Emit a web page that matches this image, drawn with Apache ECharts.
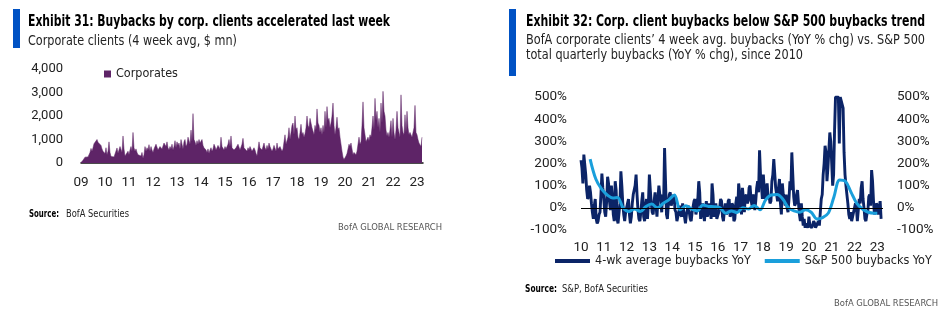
<!DOCTYPE html>
<html><head><meta charset="utf-8">
<script src="https://cdn.jsdelivr.net/npm/echarts@6/dist/echarts.min.js"></script>
<style>html,body{margin:0;padding:0;background:#fff}#c{width:951px;height:332px}</style>
</head><body><div id="c"></div>
<script>
// ---------------- DATA ----------------
// Exhibit 31: Corporate clients 4-week avg buybacks ($ mn), twice a month from Jan 2009
const corpStartYear = 2009;
const corpPerYear = 24;
const corporates = [
  20, 60, 120, 200, 250, 180, 180, 260, 300, 450, 620, 500, 650, 820, 900, 780, 1000, 880, 950, 800, 750, 600, 500, 420,          // 2009
  400, 650, 350, 500, 900, 450, 280, 350, 200, 260, 250, 200, 640, 420, 500, 700, 700, 450, 1150, 600, 300, 250, 350, 500,        // 2010
  350, 550, 700, 500, 1300, 650, 500, 600, 450, 350, 350, 300, 300, 450, 200, 350, 700, 500, 650, 550, 780, 500, 700, 550,        // 2011
  450, 600, 700, 800, 800, 550, 550, 700, 750, 600, 600, 850, 850, 700, 900, 650, 550, 700, 600, 800, 550, 700, 950, 650,         // 2012
  900, 750, 850, 600, 1000, 800, 600, 900, 1000, 700, 800, 1100, 1150, 800, 1400, 900, 2100, 1000, 900, 750, 950, 800, 1000, 850, // 2013
  900, 1000, 750, 650, 600, 550, 450, 600, 400, 550, 650, 500, 600, 800, 700, 550, 550, 750, 800, 600, 1100, 700, 650, 550,       // 2014
  700, 600, 650, 800, 1000, 700, 1150, 650, 700, 550, 550, 650, 650, 800, 750, 550, 600, 800, 1050, 650, 700, 600, 500, 650,      // 2015
  550, 700, 600, 500, 450, 650, 550, 400, 300, 600, 900, 650, 700, 550, 700, 850, 650, 550, 750, 600, 850, 700, 600, 500,         // 2016
  600, 750, 700, 500, 850, 600, 550, 700, 650, 500, 600, 900, 1200, 800, 850, 1100, 1500, 1000, 1300, 1600, 1700, 1200, 2000, 1400, // 2017
  1500, 1100, 1000, 1300, 1650, 1200, 1300, 1100, 1250, 1500, 2000, 1600, 1500, 1900, 1900, 1500, 1450, 1200, 1600, 1400, 2300, 1700, 1600, 1300, // 2018
  1500, 1200, 1600, 1300, 2200, 1500, 2400, 1800, 1900, 1500, 1700, 2000, 2550, 1600, 1200, 1500, 1950, 1400, 1500, 1100, 800, 500, 250, 150,     // 2019
  150, 300, 400, 600, 800, 700, 850, 600, 350, 450, 400, 350, 500, 450, 1100, 800, 900, 1600, 2600, 1500, 1200, 900, 900, 1100,    // 2020
  950, 1200, 1100, 1500, 2000, 1400, 2750, 1800, 2200, 1500, 1900, 1300, 2550, 1700, 3050, 2200, 2000, 1400, 1150, 1300, 1100, 1400, 1800, 1100, // 2021
  1900, 1300, 1000, 1400, 2200, 1500, 1300, 1100, 2900, 1600, 1300, 1200, 2050, 1300, 2200, 1500, 1200, 1300, 1300, 1100, 1100, 1500, 2450, 1300, // 2022
  1200, 1000, 850, 900, 700, 1100                                                                                                   // 2023
];
const leftYTicks = [0, 1000, 2000, 3000, 4000];

// Exhibit 32: BofA corporate clients 4-wk avg buybacks YoY (%), twice a month from Jan 2010
const wkStartYear = 2010;
const wkPerYear = 24;
const fourWeekYoY = [
  215, 180, 110, 240, 235, 150, 80, 40, 50, 100, 70, 20, -20, -50, 10, 40, -50, -70, -60, -30, -20, 60, 155, 90,   // 2010
  40, -20, -40, 30, 140, 110, 30, -10, 100, 50, -30, -60, 120, 80, -50, -70, -70, 20, 165, 100, 20, -30, -60, -20,  // 2011
  -20, 20, 40, -30, -70, -40, 20, 60, 60, 100, 150, 60, -10, -50, -60, -20, 30, 70, -40, -60, 10, 40, -50, 20,      // 2012
  150, 80, 20, -20, -30, 30, 70, 10, -40, 40, 100, 60, 30, -20, 60, 20, 270, 120, -30, -50, 20, 60, 70, 10,         // 2013
  10, 50, 60, -10, -20, -60, -60, -20, 10, -30, -40, 20, 20, -40, -70, -30, -30, 10, 10, -50, -60, -20, -20, 30,    // 2014
  40, -30, -10, 40, 120, 70, -50, -20, 20, -30, -60, 0, 30, -40, -20, 20, -10, -50, 110, 60, -40, -10, 20, -50,     // 2015
  -50, -20, 0, 40, 30, -40, -60, -10, 20, -30, -20, 30, 40, -40, -30, 20, 10, -60, -50, 20, 50, -20, 110, 70,       // 2016
  20, -30, 90, 40, -20, 50, 60, 20, 30, 90, 100, 40, 10, 50, 60, -10, 30, 90, 120, 70, 260, 150, 100, 40,           // 2017
  150, 80, 40, 90, 110, 50, 60, 20, 30, 120, 150, 220, 220, 90, 60, 30, 90, 130, 20, -30, 110, 60, 40, 10,          // 2018
  60, 0, -20, 40, 120, 80, 250, 150, 50, 10, 20, 60, 80, 20, -30, -60, 20, -40, -80, -50, -90, -70, -70, -90,       // 2019
  -40, -80, -80, -90, -90, -60, -70, -90, -90, -70, -60, -80, -20, 40, 60, 150, 200, 280, 250, 120, 180, 260, 340, 300, // 2020
  200, 100, 150, 350, 500, 500, 500, 500, 290, 500, 500, 500, 450, 250, 150, 100, 60, 20, -30, -50, -20, -60, -40, -40, // 2021
  -40, 20, 0, -60, -60, 40, 20, 90, 120, 40, 0, -50, -60, -30, -20, 50, 60, 10, 170, 120, 30, -30, -10, 20,         // 2022
  10, -30, 0, 30, -50                                                                                               // 2023
];
// S&P 500 total quarterly buybacks YoY (%)
const spDates = [2010.4, 2010.65, 2010.9, 2011.15, 2011.4, 2011.6, 2011.85, 2012.1, 2012.35, 2012.6, 2012.85,
  2013.1, 2013.35, 2013.6, 2013.85, 2014.1, 2014.35, 2014.6, 2014.85, 2015.1, 2015.35, 2015.6, 2015.85,
  2016.1, 2016.35, 2016.6, 2016.85, 2017.1, 2017.35, 2017.6, 2017.85, 2018.1, 2018.35, 2018.6, 2018.85,
  2019.1, 2019.35, 2019.6, 2019.85, 2020.1, 2020.35, 2020.6, 2020.85, 2021.1, 2021.35, 2021.6, 2021.85,
  2022.1, 2022.35, 2022.6, 2022.85, 2023.0];
const spYoY = [220, 130, 85, 58, 44, 47, 0, -17, -5, -17, 6,
  17, 0, 20, 36, 58, -9, 9, -5, -14, 13, 6, 5,
  0, -24, -14, -21, 0, -5, 11, -9, 36, 58, 60, 40,
  0, -14, -20, -9, -20, -50, -44, -24, 50, 126, 120, 70,
  20, -5, -20, -24, -24];
const rightYTicks = [-100, 0, 100, 200, 300, 400, 500];

// ---------------- FONTS / TEXT HELPERS ----------------
const cv = document.createElement('canvas').getContext('2d');
function available(f) {
  const s = 'abcdefghijklmnopqrstuvwxyz0123456789';
  cv.font = '40px monospace'; const a = cv.measureText(s).width;
  cv.font = '40px "' + f + '", monospace'; return cv.measureText(s).width !== a;
}
const NARROW = ['Liberation Sans Narrow', 'DejaVu Sans Condensed', 'Roboto Condensed', 'Open Sans Condensed'].find(available);
const BASE = NARROW || 'Roboto';
function measure(text, size, weight, family) {
  cv.font = weight + ' ' + size + 'px "' + family + '"'; return cv.measureText(text).width;
}
function fitText(text, x, y, width, size, o) {
  o = o || {};
  const weight = o.weight || 'normal', family = o.family || BASE;
  const w = measure(text, size, weight, family);
  return { type: 'text', x: x, y: y, scaleX: width / w, silent: true,
    style: { text: text, font: weight + ' ' + size + 'px "' + family + '"', fill: o.color || '#111',
      textAlign: o.align || 'left', textVerticalAlign: 'middle' } };
}
function fitSize(text, width, size) { return Math.min(size + 1, size * width / measure(text, size, 'normal', BASE)); }

// ---------------- BUILD ----------------
const corpData = corporates.map((v, i) => [corpStartYear + i / corpPerYear, v]);
const wkData = fourWeekYoY.map((v, i) => [wkStartYear + i / wkPerYear, v]);
const spData = spDates.map((d, i) => [d, spYoY[i]]);

const PURPLE = '#5E2467', NAVY = '#0B2467', LIGHT = '#1A9FDB', BAR = '#0052C4';
const labelFont = 'Roboto';
const yr2 = v => String(Math.round(v) % 100).padStart(2, '0');

const chart = echarts.init(document.getElementById('c'), null, { renderer: 'canvas' });
chart.setOption({
  animation: false,
  backgroundColor: '#fff',
  grid: [
    { left: 81, top: 69, width: 342, height: 94 },
    { left: 581, top: 97, width: 302, height: 133 }
  ],
  xAxis: [
    { gridIndex: 0, type: 'value', min: 2009, max: 2023.25, interval: 1,
      axisLine: { show: true, lineStyle: { color: '#111', width: 1.5 } }, axisTick: { show: false }, splitLine: { show: false },
      axisLabel: { formatter: yr2, fontSize: 13.5, color: '#222', margin: 13, fontFamily: labelFont, showMaxLabel: false } },
    { gridIndex: 1, type: 'value', min: 2010, max: 2023.25, interval: 1,
      axisLine: { show: false }, axisTick: { show: false }, splitLine: { show: false },
      axisLabel: { formatter: yr2, fontSize: 13.5, color: '#222', margin: 11, fontFamily: labelFont, showMaxLabel: false } }
  ],
  yAxis: [
    { gridIndex: 0, type: 'value', min: leftYTicks[0], max: leftYTicks[leftYTicks.length - 1], interval: 1000,
      axisLine: { show: false }, axisTick: { show: false }, splitLine: { show: false },
      axisLabel: { formatter: v => v.toLocaleString('en-US'), fontSize: 13, color: '#222', margin: 18, fontFamily: labelFont } },
    { gridIndex: 1, type: 'value', min: rightYTicks[0], max: rightYTicks[rightYTicks.length - 1], interval: 100,
      axisLine: { show: false }, axisTick: { show: false }, splitLine: { show: false },
      axisLabel: { formatter: '{value}%', fontSize: 13.5, color: '#222', margin: 14, fontFamily: labelFont } },
    { gridIndex: 1, type: 'value', position: 'right', min: rightYTicks[0], max: rightYTicks[rightYTicks.length - 1], interval: 100,
      axisLine: { show: false }, axisTick: { show: false }, splitLine: { show: false },
      axisLabel: { formatter: '{value}%', fontSize: 13.5, color: '#222', margin: 14, fontFamily: labelFont } }
  ],
  legend: [
    { data: ['Corporates'], left: 104, top: 68, icon: 'rect', itemWidth: 7, itemHeight: 7, padding: 0,
      textStyle: { fontSize: fitSize('Corporates', 62, 14), fontFamily: BASE, color: '#222' } },
    { data: ['4-wk average buybacks YoY', 'S&P 500 buybacks YoY'], left: 555, top: 255, icon: 'rect',
      itemWidth: 35, itemHeight: 4, itemGap: 14, padding: 0,
      textStyle: { fontSize: fitSize('4-wk average buybacks YoY', 156, 14), fontFamily: BASE, color: '#222' } }
  ],
  series: [
    { name: 'Corporates', type: 'line', xAxisIndex: 0, yAxisIndex: 0, data: corpData, symbol: 'none',
      color: PURPLE, lineStyle: { width: 0.5, color: PURPLE }, areaStyle: { color: PURPLE, opacity: 1 } },
    { name: 'zero', type: 'line', xAxisIndex: 1, yAxisIndex: 1, data: [], z: 1,
      markLine: { silent: true, symbol: 'none', label: { show: false }, lineStyle: { color: '#000', width: 1, type: 'solid' },
        data: [{ yAxis: 0 }] } },
    { name: '4-wk average buybacks YoY', type: 'line', xAxisIndex: 1, yAxisIndex: 1, data: wkData, symbol: 'none',
      color: NAVY, lineStyle: { width: 2.9, color: NAVY }, z: 2 },
    { name: 'S&P 500 buybacks YoY', type: 'line', xAxisIndex: 1, yAxisIndex: 1, data: spData, symbol: 'none',
      smooth: 0.35, color: LIGHT, lineStyle: { width: 3, color: LIGHT }, z: 3 }
  ],
  graphic: [
    { type: 'rect', shape: { x: 13, y: 9, width: 7, height: 39 }, style: { fill: BAR }, silent: true },
    { type: 'rect', shape: { x: 509, y: 9, width: 7, height: 67 }, style: { fill: BAR }, silent: true },
    fitText('Exhibit 31: Buybacks by corp. clients accelerated last week', 28, 22, 362, 15, { weight: 'bold', color: '#000' }),
    fitText('Corporate clients (4 week avg, $ mn)', 28, 41, 209, 14.5, { color: '#222' }),
    fitText('Source:', 29, 214, 30, 10, { weight: 'bold', color: '#000' }),
    fitText('BofA Securities', 66, 214, 63, 10, { color: '#222' }),
    fitText('BofA GLOBAL RESEARCH', 442, 228, 104, 9.5, { color: '#555', align: 'right' }),
    fitText('Exhibit 32: Corp. client buybacks below S&P 500 buybacks trend', 526, 22, 399, 15, { weight: 'bold', color: '#000' }),
    fitText('BofA corporate clients\u2019 4 week avg. buybacks (YoY % chg) vs. S&P 500', 526, 40, 399, 14.5, { color: '#222' }),
    fitText('total quarterly buybacks (YoY % chg), since 2010', 526, 55, 277, 14.5, { color: '#222' }),
    fitText('Source:', 525, 289, 32, 10, { weight: 'bold', color: '#000' }),
    fitText('S&P, BofA Securities', 562, 289, 86, 10, { color: '#222' }),
    fitText('BofA GLOBAL RESEARCH', 938, 304, 104, 9.5, { color: '#555', align: 'right' })
  ]
});
</script>
</body></html>
